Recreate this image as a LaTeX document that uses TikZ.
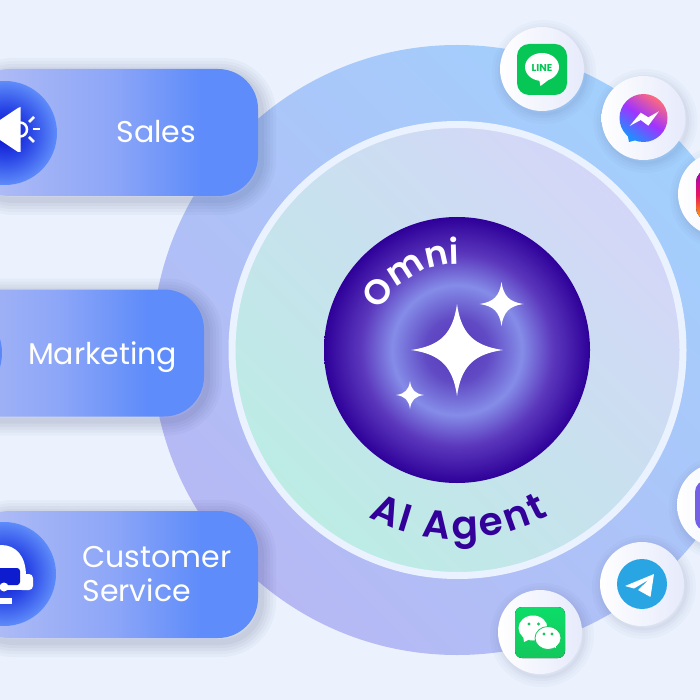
\documentclass[tikz,border=0pt]{standalone}
\usepackage{fontspec}
\setmainfont{Poppins}
\newfontfamily\curvefont{Poppins SemiBold}
\usetikzlibrary{decorations.text}

\definecolor{pagebg}{HTML}{EBF2FE}
\definecolor{inkdeep}{HTML}{33009A}
\definecolor{ringedge}{HTML}{EAF2FF}
\definecolor{ringlow}{HTML}{B6B8F4}
\definecolor{ringhigh}{HTML}{A2D0FD}
\definecolor{corelow}{HTML}{BCECE4}
\definecolor{corehigh}{HTML}{D4D6F8}
\definecolor{holderright}{HTML}{E6EAFB}
\definecolor{shadowink}{HTML}{2E3A6A}
\definecolor{linegreen}{HTML}{06C755}
\definecolor{tgblue}{HTML}{2AA5E3}
\definecolor{visorblue}{HTML}{0E1CD0}
\definecolor{omnipurple}{HTML}{7360E6}
\definecolor{msgblue}{HTML}{1E90FF}
\definecolor{msgviolet}{HTML}{A033FF}
\definecolor{msgred}{HTML}{FF6B7B}
\definecolor{instatop}{HTML}{A100C8}
\definecolor{instamid}{HTML}{E8175D}
\definecolor{instalow}{HTML}{FFB300}
\definecolor{wxtop}{HTML}{0CDD68}
\definecolor{wxlow}{HTML}{14C75C}

\pgfdeclareradialshading{orbshade}{\pgfpoint{0bp}{0bp}}{
  rgb(0bp)=(0.34,0.22,0.73);
  rgb(6bp)=(0.38,0.29,0.77);
  rgb(12.2bp)=(0.52,0.55,0.91);
  rgb(18bp)=(0.36,0.22,0.74);
  rgb(25bp)=(0.18,0.00,0.60);
  rgb(50bp)=(0.18,0.00,0.60)}
\pgfdeclareradialshading{badgeshade}{\pgfpoint{0bp}{0bp}}{
  rgb(0bp)=(0.03,0.05,0.80);
  rgb(12bp)=(0.16,0.27,0.90);
  rgb(25bp)=(0.37,0.55,0.98);
  rgb(50bp)=(0.37,0.55,0.98)}
\pgfdeclarehorizontalshading{pillshade}{100bp}{
  rgb(0bp)=(0.71,0.75,0.96);
  rgb(25bp)=(0.71,0.75,0.96);
  rgb(50bp)=(0.55,0.65,0.97);
  rgb(65bp)=(0.37,0.55,0.98);
  rgb(100bp)=(0.37,0.55,0.98)}

\tikzset{
  softshadow/.style={
    preaction={draw=shadowink, draw opacity=.035, line width=30pt, transform canvas={shift={(3pt,-4pt)}}},
    preaction={draw=shadowink, draw opacity=.035, line width=24pt, transform canvas={shift={(3pt,-4pt)}}},
    preaction={draw=shadowink, draw opacity=.04, line width=18pt, transform canvas={shift={(3pt,-4pt)}}},
    preaction={draw=shadowink, draw opacity=.04, line width=12pt, transform canvas={shift={(3pt,-4pt)}}},
    preaction={draw=shadowink, draw opacity=.05, line width=6pt, transform canvas={shift={(3pt,-4pt)}}},
  },
  softshadowsmall/.style={
    preaction={draw=shadowink, draw opacity=.025, line width=20pt, transform canvas={shift={(2pt,-3pt)}}},
    preaction={draw=shadowink, draw opacity=.025, line width=14pt, transform canvas={shift={(2pt,-3pt)}}},
    preaction={draw=shadowink, draw opacity=.03, line width=8pt, transform canvas={shift={(2pt,-3pt)}}},
    preaction={draw=shadowink, draw opacity=.03, line width=3pt, transform canvas={shift={(2pt,-3pt)}}},
  },
  pill/.style={rounded corners=40pt, minimum width=288pt, minimum height=127pt, shading=pillshade, softshadow}, % the three bars on the left
  badge/.style={circle, shading=badgeshade, minimum size=104pt, inner sep=0pt},
  pilltext/.style={text=white, anchor=west, align=left, font=\fontsize{30}{34}\selectfont},
  holder/.style={circle, minimum size=84pt, inner sep=0pt, left color=white, right color=holderright, softshadowsmall}, % white disc behind an app
  sparkle/.pic={
    \fill[white] (0,-1) .. controls (.09,-.36) and (.36,-.09) .. (1,0)
      .. controls (.36,.09) and (.09,.36) .. (0,1)
      .. controls (-.09,.36) and (-.36,.09) .. (-1,0)
      .. controls (-.36,-.09) and (-.09,-.36) .. (0,-1) -- cycle;
  },
}

\begin{document}
\begin{tikzpicture}[x=1pt, y=-1pt]
    \useasboundingbox (0,0) rectangle (700,700);
    \fill[pagebg] (0,0) rectangle (700,700);

    % rings and centre
    \node[circle, minimum size=610pt, inner sep=0pt, bottom color=ringlow, top color=ringhigh, shading angle=-45] (outer) at (457,350) {};
    \node[circle, minimum size=451pt, inner sep=0pt, draw=ringedge, line width=7pt, bottom color=corelow, top color=corehigh, shading angle=-45] (core) at (457.5,350) {};
    \node[circle, minimum size=266pt, inner sep=0pt, shading=orbshade] (orb) at (457,350) {};

    \pic[scale=46] (bigstar) at (457,350) {sparkle};
    \pic[scale=22] (midstar) at (501.5,304) {sparkle};
    \pic[scale=14] (tinystar) at (410,395) {sparkle};

    \path[decorate, decoration={text along path, text align={fit to path},
        text={|\fontsize{35}{35}\curvefont\color{white}|Omni}}]
      ([shift={(-153:86)}]orb.center) arc[start angle=-153, end angle=-89, radius=86];
    \path[decorate, decoration={text along path, text align={fit to path},
        text={|\fontsize{39}{39}\curvefont\color{inkdeep}|AI Agent}}]
      ([shift={(-242:189)}]orb.center) arc[start angle=-242, end angle=-299, radius=189];

    % bars
    \node[pill] (sales) at (114,132.5) {};
    \node[pill] (marketing) at (60,353) {};
    \node[pill] (service) at (114,574.5) {};

    \node[badge] (salesbadge) at (5,133) {};
    \node[badge] (marketingbadge) at (-50,353) {};
    \node[badge] (servicebadge) at (4,574) {};

    \node[pilltext] (salestext) at (113,132) {Sales};
    \node[pilltext] (marketingtext) at (24.5,357) {Marketing};
    \node[pilltext] (servicetext) at (79,574) {Customer\\Service};

    % megaphone
    \fill[white] (-10,126) -- (0,120) -- (18,108) -- (20.5,107) -- (20.5,152) -- (18,152) -- (0,140) -- (-10,134) -- cycle;
    \draw[white, line width=2.5pt] (20,122.5) arc[start angle=-90, end angle=90, radius=7];
    \draw[white, line width=2.5pt] (29,122) -- (34,117);
    \draw[white, line width=2.5pt] (33,129) -- (40,129);
    \draw[white, line width=2.5pt] (29,137) -- (34,142);

    % headset
    \fill[white] (-12,545) -- (1,545) .. controls (16,545) and (26,556) .. (26,576) -- (-12,576) -- cycle;
    \fill[white, rounded corners=4pt] (18,574) rectangle (33,590);
    \fill[white] (4,585) rectangle (26,590);
    \fill[visorblue, rounded corners=3pt] (-12,568) rectangle (20,585);
    \fill[white] (4,587) circle (4.5);
    \fill[white] (-12,598) rectangle (12,604);

    % apps
    \node[holder] (line) at (542,69) {};
    \node[holder] (messenger) at (643.5,118) {};
    \node[holder] (instagram) at (720,194) {};
    \node[holder] (omni) at (719,505) {};
    \node[holder] (telegram) at (642,584) {};
    \node[holder] (wechat) at (540,632) {};

    % line
    \fill[linegreen, rounded corners=12pt] (517,44) rectangle (567,95);
    \fill[white] (542,67) ellipse [x radius=17, y radius=14];
    \fill[white] (539,79) -- (540.5,86) -- (551,78) -- cycle;
    \node[text=linegreen, inner sep=0pt, font=\fontsize{10}{10}\selectfont\bfseries] (linetext) at (542,67.5) {LINE};

    % messenger
    \fill[msgblue] (627,132) -- (629,142) -- (640,139) -- cycle;
    \node[circle, minimum size=48pt, inner sep=0pt, top color=msgred, bottom color=msgblue, middle color=msgviolet, shading angle=-35] (msgdisc) at (643.5,118) {};
    \fill[white] (629.7,126) -- (640.7,112.7) -- (648.3,117.3) -- (659,111.3) -- (648.3,125.7) -- (640.7,120) -- cycle;

    % instagram
    \fill[top color=instatop, bottom color=instalow, middle color=instamid, rounded corners=12pt] (696,170) rectangle (746,220);

    % omni square
    \fill[omnipurple, rounded corners=12pt] (695,480) rectangle (745,531);

    % telegram
    \node[circle, minimum size=50pt, inner sep=0pt, fill=tgblue] (tgdisc) at (642,584) {};
    \fill[white, rounded corners=.5pt] (625,586) -- (654,574) -- (650.5,597) -- (638,590) -- (649,579.5) -- (634,588.5) -- cycle;

    % wechat
    \fill[top color=wxtop, bottom color=wxlow, rounded corners=7pt] (515,607) rectangle (565,658);
    \fill[white] (533,628) ellipse [x radius=14.5, y radius=12.5];
    \fill[white] (523,635) -- (524,642) -- (532,638) -- cycle;
    \fill[white, draw=wxlow, line width=.8pt] (548,638) ellipse [x radius=13, y radius=11.5];
    \fill[white] (552,646) -- (556,648) -- (555,642) -- cycle;
    \foreach \ex/\ey in {529/624, 538.5/624, 544/634, 552/634}
      \fill[wxlow] (\ex,\ey) circle (1.7);
\end{tikzpicture}
\end{document}
